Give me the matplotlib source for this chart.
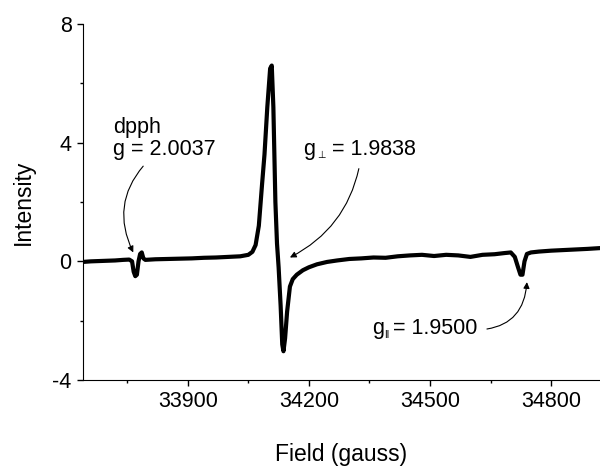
#EPR spectrum with dpph marker and g-value annotations
import matplotlib.pyplot as plt
import numpy as np
from matplotlib.ticker import MultipleLocator, FixedLocator

plt.rcParams['font.family'] = ['Liberation Sans', 'DejaVu Sans']
plt.rcParams['axes.unicode_minus'] = False

#Field values (gauss)
field = [33640, 33660, 33680, 33700, 33720, 33740, 33755, 33762, 33766, 33770,
         33774, 33778, 33782, 33786, 33790, 33795, 33820, 33850, 33880, 33910,
         33940, 33970, 34000, 34030, 34050, 34060, 34068, 34076, 34084, 34090,
         34097, 34104, 34108, 34112, 34117, 34121, 34125, 34130, 34134, 34137,
         34141, 34146, 34153, 34160, 34170, 34185, 34200, 34220, 34245, 34270,
         34300, 34330, 34360, 34390, 34420, 34450, 34480, 34510, 34540, 34570,
         34600, 34630, 34660, 34685, 34700, 34710, 34718, 34724, 34729, 34734,
         34740, 34750, 34770, 34800, 34830, 34860, 34890, 34925]
#Intensity values
intensity = [-0.02, 0.0, 0.01, 0.02, 0.03, 0.05, 0.06, 0.0, -0.35, -0.5,
             -0.45, 0.0, 0.25, 0.3, 0.1, 0.05, 0.07, 0.08, 0.09, 0.1,
             0.12, 0.13, 0.15, 0.17, 0.22, 0.32, 0.55, 1.2, 2.6, 3.6,
             5.2, 6.5, 6.6, 5.2, 2.0, 0.6, -0.2, -1.5, -2.8, -3.03,
             -2.6, -1.7, -0.85, -0.6, -0.45, -0.3, -0.2, -0.1, -0.02, 0.03,
             0.08, 0.1, 0.13, 0.12, 0.17, 0.2, 0.22, 0.18, 0.22, 0.2,
             0.15, 0.22, 0.24, 0.28, 0.3, 0.15, -0.2, -0.45, -0.45, 0.0,
             0.25, 0.3, 0.33, 0.36, 0.38, 0.4, 0.42, 0.45]

fig = plt.figure(figsize=(6, 4.66), dpi=100)
ax = fig.add_axes([0.138, 0.1845, 0.862, 0.764])
ax.plot(field, intensity, color='black', lw=3, solid_joinstyle='round')

ax.set_xlim(33640, 34921)
ax.set_ylim(-4, 8)
ax.set_xticks([33900, 34200, 34500, 34800])
ax.xaxis.set_minor_locator(FixedLocator([33750, 34050, 34350, 34650]))
ax.set_yticks([-4, 0, 4, 8])
ax.yaxis.set_minor_locator(MultipleLocator(2))
ax.tick_params(which='major', direction='out', length=4.5, width=1, labelsize=15.5)
ax.tick_params(which='minor', direction='out', length=2.5, width=1)
for s in ['top', 'right']:
    ax.spines[s].set_visible(False)

ax.set_xlabel("Field (gauss)", fontsize=16.5, labelpad=22)
ax.set_ylabel("Intensity", fontsize=16.5, labelpad=13)

arrow = dict(arrowstyle='-|>', color='black', lw=0.8, mutation_scale=9)
fs = 15.5
#dpph marker
ax.annotate("dpph\ng = 2.0037", xy=(33765, 0.3), xytext=(33714, 4.85),
            fontsize=fs, ha='left', va='top', linespacing=1.05,
            arrowprops=dict(arrow, connectionstyle='arc3,rad=0.35',
                            relpos=(0.35, 0.0), shrinkA=3, shrinkB=0))
#perpendicular component: g, subscript, rest of label
ax.text(34185, 3.57, "g", fontsize=fs, ha='left', va='baseline')
ax.annotate("\u22a5", xy=(34220, 3.57), xytext=(0, -2), textcoords='offset points',
            fontsize=7, ha='left', va='baseline', family='DejaVu Sans')
ax.annotate("= 1.9838", xy=(34153, 0.13), xytext=(34257, 3.57),
            fontsize=fs, ha='left', va='baseline',
            arrowprops=dict(arrow, connectionstyle='arc3,rad=-0.25',
                            relpos=(0.34, 0.0), shrinkA=4, shrinkB=0))
#parallel component
ax.text(34356, -2.46, "g", fontsize=fs, ha='left', va='baseline')
ax.annotate("II", xy=(34386, -2.46), xytext=(0, -2.5), textcoords='offset points',
            fontsize=7, ha='left', va='baseline')
ax.annotate("= 1.9500", xy=(34740, -0.7), xytext=(34408, -2.46),
            fontsize=fs, ha='left', va='baseline',
            arrowprops=dict(arrow, connectionstyle='arc3,rad=0.45',
                            relpos=(1.0, 0.45), shrinkA=5, shrinkB=0))

plt.savefig("out.png", dpi=100)
